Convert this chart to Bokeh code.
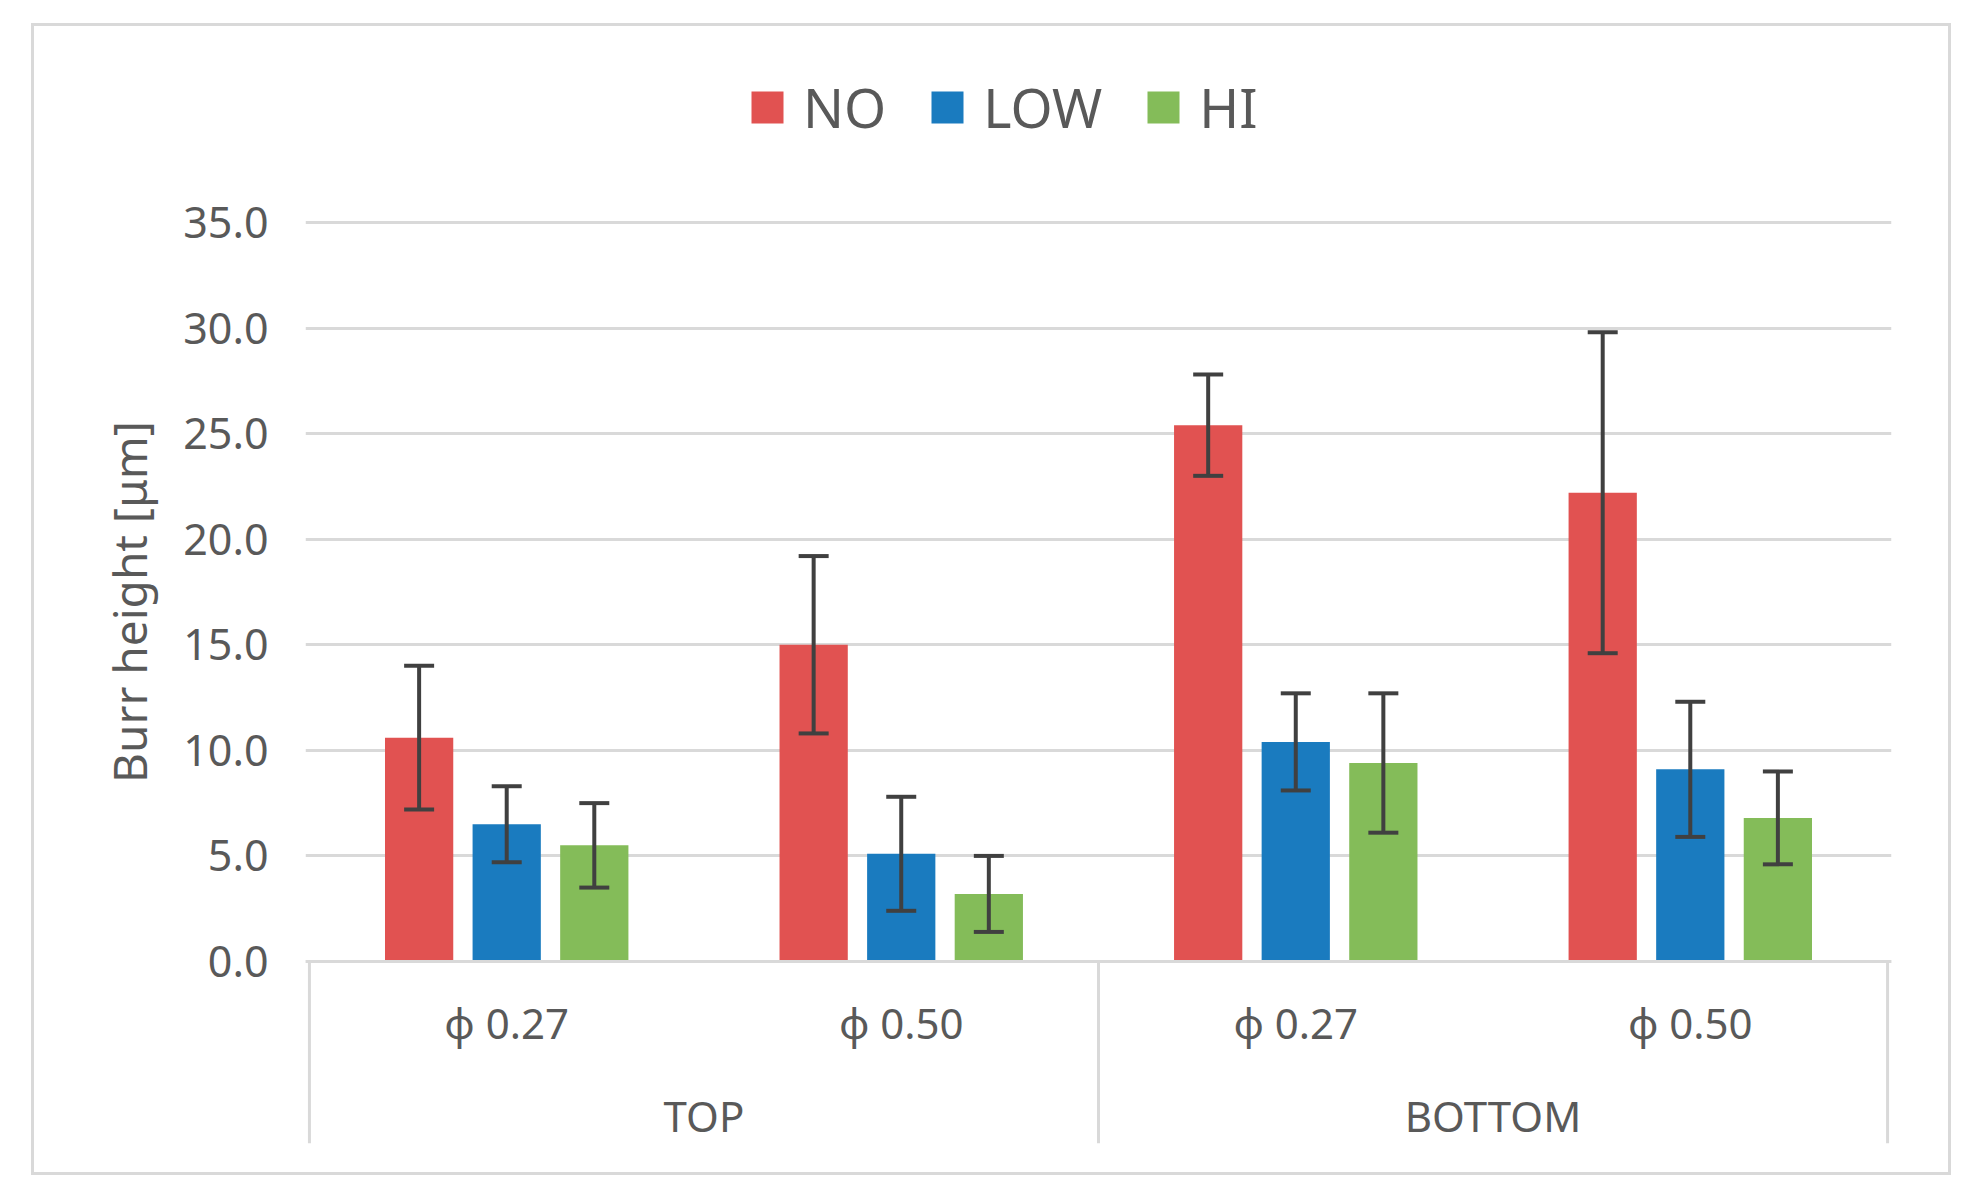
from bokeh.plotting import figure
from bokeh.models import (ColumnDataSource, FactorRange, FixedTicker, PrintfTickFormatter,
                          Whisker, TeeHead, Legend, LegendItem, CategoricalAxis, Range1d)
from bokeh.transform import dodge
from bokeh.embed import file_html
from bokeh.resources import INLINE

# ---------------- data ----------------
groups = ["TOP", "BOTTOM"]
diameters = ["ϕ 0.27", "ϕ 0.50"]
series = ["NO", "LOW", "HI"]
no_mean = [10.6, 15.0, 25.4, 22.2]
no_sd = [3.4, 4.2, 2.4, 7.6]
low_mean = [6.5, 5.1, 10.4, 9.1]
low_sd = [1.8, 2.7, 2.3, 3.2]
hi_mean = [5.5, 3.2, 9.4, 6.8]
hi_sd = [2.0, 1.8, 3.3, 2.2]
y_ticks = [0, 5, 10, 15, 20, 25, 30, 35]
y_label = "Burr height [μm]"

# ---------------- style ----------------
colors = ["#E15251", "#1A7BBF", "#84BC59"]
FONT = "Noto Sans"
TEXT = "#595959"
GRID = "#D9D9D9"
ERR = "#404040"
offsets = [-0.222, 0.0, 0.222]
bar_w = 0.173
y_lo, y_hi = -8.62, 42.67

factors = [(g, d) for g in groups for d in diameters]
x_range = FactorRange(*factors, factor_padding=0, group_padding=0,
                      range_padding=0.01, range_padding_units="absolute")

p = figure(x_range=x_range, y_range=Range1d(y_lo, y_hi),
           width=1920, height=1152,
           min_border_left=271, min_border_right=63, min_border_top=34, min_border_bottom=35,
           output_backend="svg", toolbar_location=None,
           margin=(23, 0, 0, 31), styles={"border": "3px solid #D9D9D9"},
           background_fill_color="white", border_fill_color="white")
p.outline_line_color = None

# grid
p.xgrid.visible = False
p.ygrid.ticker = FixedTicker(ticks=y_ticks)
p.ygrid.grid_line_color = GRID
p.ygrid.grid_line_width = 3

# y axis
ya = p.yaxis[0]
ya.ticker = FixedTicker(ticks=y_ticks)
ya.formatter = PrintfTickFormatter(format="%.1f")
ya.axis_line_color = None
ya.major_tick_line_color = None
ya.minor_tick_line_color = None
ya.major_tick_out = 0
ya.major_tick_in = 0
ya.minor_tick_out = 0
ya.major_label_text_font = FONT
ya.major_label_text_font_size = "43px"
ya.major_label_text_color = TEXT
ya.major_label_standoff = 37
ya.axis_label = y_label
ya.axis_label_text_font = FONT
ya.axis_label_text_font_size = "46px"
ya.axis_label_text_font_style = "normal"
ya.axis_label_text_color = TEXT
ya.axis_label_standoff = 20

# x axis (sub labels) at y = 0
xa = p.xaxis[0]
xa.fixed_location = 0
xa.axis_line_color = GRID
xa.axis_line_width = 3
xa.major_tick_line_color = None
xa.major_tick_out = 0
xa.major_tick_in = 0
xa.major_label_text_font = FONT
xa.major_label_text_font_size = "42px"
xa.major_label_text_color = TEXT
xa.major_label_standoff = 33
xa.group_text_alpha = 0
xa.group_text_font_size = "42px"
xa.separator_line_color = None

# second axis for group labels
xa2 = CategoricalAxis(fixed_location=0)
xa2.axis_line_color = None
xa2.major_tick_line_color = None
xa2.major_tick_out = 0
xa2.major_tick_in = 0
xa2.major_label_text_font = FONT
xa2.major_label_text_font_size = "42px"
xa2.major_label_text_alpha = 0
xa2.major_label_standoff = 126
xa2.group_text_font = FONT
xa2.group_text_font_size = "42px"
xa2.group_text_font_style = "normal"
xa2.group_text_color = TEXT
xa2.separator_line_color = None
p.add_layout(xa2, "below")

# separators of the category axis
sep_x = [(groups[0], diameters[0], -0.5), (groups[1], diameters[0], -0.5),
         (groups[-1], diameters[-1], 0.5)]
sep_src = ColumnDataSource(dict(x=sep_x, y0=[0] * len(sep_x), y1=[y_lo] * len(sep_x)))
p.segment(x0="x", y0="y0", x1="x", y1="y1", source=sep_src, line_color=GRID, line_width=3)

# bars + error bars
means = [no_mean, low_mean, hi_mean]
sds = [no_sd, low_sd, hi_sd]
items = []
for name, m, s, c, off in zip(series, means, sds, colors, offsets):
    src = ColumnDataSource(dict(cat=factors, mean=m,
                                upper=[a + b for a, b in zip(m, s)],
                                lower=[a - b for a, b in zip(m, s)]))
    r = p.vbar(x=dodge("cat", off, range=p.x_range), top="mean", bottom=0, width=bar_w,
               source=src, fill_color=c, line_color=None)
    items.append(LegendItem(label=name, renderers=[r]))
    w = Whisker(source=src, base=dodge("cat", off, range=p.x_range), upper="upper", lower="lower",
                line_color=ERR, line_width=4, level="overlay",
                upper_head=TeeHead(size=30, line_color=ERR, line_width=4),
                lower_head=TeeHead(size=30, line_color=ERR, line_width=4))
    p.add_layout(w)

legend = Legend(items=items, orientation="horizontal", location=(442, 999),
                glyph_width=40, glyph_height=40, label_standoff=16, spacing=41,
                padding=0, margin=0, border_line_color=None, background_fill_alpha=0,
                label_text_font=FONT, label_text_font_size="54px", label_text_color=TEXT)
p.add_layout(legend)

open("out.html", "w").write(file_html(p, INLINE))
